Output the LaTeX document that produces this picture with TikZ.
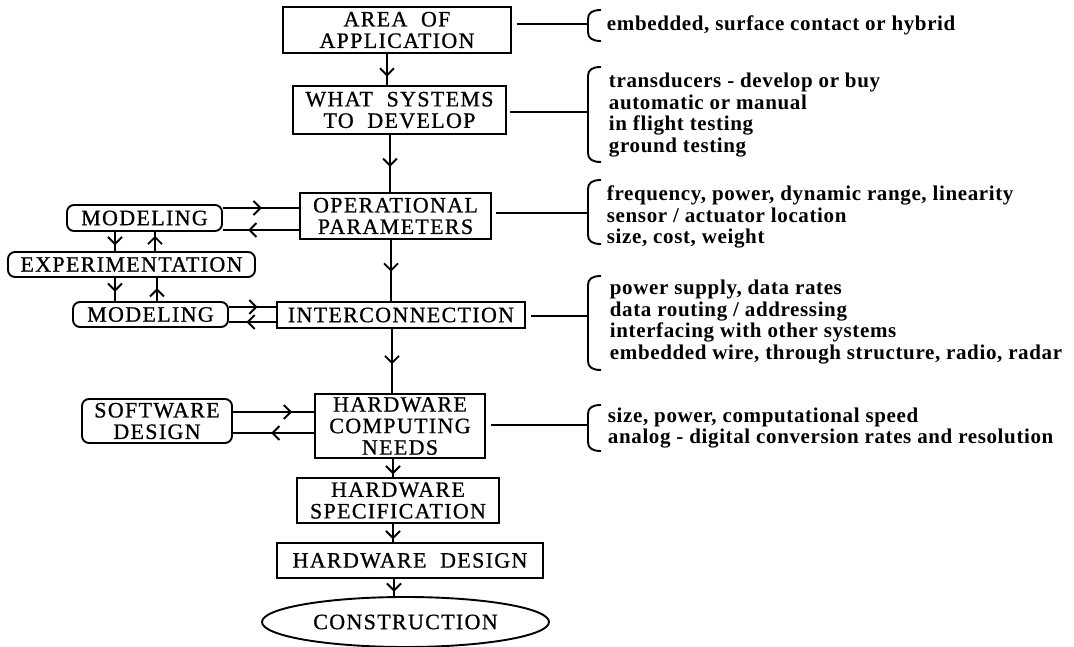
\documentclass[tikz,border=0pt]{standalone}
\usepackage{fontspec}
\setmainfont{Liberation Serif}
\newfontfamily\boxfont[LetterSpace=6,FakeBold=0.8]{Liberation Serif}
\newfontfamily\notefont[LetterSpace=3]{Liberation Serif}
\usetikzlibrary{arrows.meta,decorations.markings,shapes.geometric}

% curly bracket opening towards the notes: vertical stroke at x=588
\newcommand\notebrace[2]{%
  \draw (601,#1) .. controls (592,#1) and (588,#1+3) .. (588,#1+9)
        -- (588,#2-9) .. controls (588,#2-3) and (592,#2) .. (601,#2);}

\begin{document}
\begin{tikzpicture}[x=1pt,y=-1pt,
  line width=1.9pt,
  >={Straight Barb[length=7pt,width=14pt]},
  stage/.style={draw, rectangle, inner sep=0pt, align=center,
    font=\boxfont\fontsize{22}{21.5}\selectfont},
  rbox/.style={stage, rounded corners=7pt},
  note/.style={anchor=west, inner sep=0pt, align=left,
    font=\notefont\bfseries\fontsize{21}{21.4}\selectfont},
  arrowat/.style={postaction={decorate,
    decoration={markings, mark=at position #1 with {\arrow{>}}}}}]

\useasboundingbox (0,0) rectangle (1074,647);

% main chain
\node[stage, minimum width=228pt, minimum height=46pt] (area)  at (397,30)    {AREA\ \ OF\\APPLICATION};
\node[stage, minimum width=213pt, minimum height=48pt] (what)  at (399.5,110)  {WHAT\ \ SYSTEMS\\TO\ \ DEVELOP};
\node[stage, minimum width=191pt, minimum height=46pt] (oper)  at (395.5,216)  {OPERATIONAL\\PARAMETERS};
\node[stage, minimum width=248pt, minimum height=26pt] (inter) at (401,315)    {INTERCONNECTION};
\node[stage, minimum width=170pt, minimum height=64pt] (hcn)   at (400,426)    {HARDWARE\\COMPUTING\\NEEDS};
\node[stage, minimum width=202pt, minimum height=45pt] (hs)    at (398,500.5)  {HARDWARE\\SPECIFICATION};
\node[stage, minimum width=266pt, minimum height=35pt] (hd)    at (410,560.5)  {HARDWARE\ \ DESIGN};
\node[stage, ellipse, minimum width=287pt, minimum height=50pt] (cons) at (405.5,622) {CONSTRUCTION};

% side loops
\node[rbox, minimum width=155pt, minimum height=26pt] (mod1) at (144.5,218)  {MODELING};
\node[rbox, minimum width=247pt, minimum height=25pt] (exp)  at (131.5,264.5) {EXPERIMENTATION};
\node[rbox, minimum width=155pt, minimum height=25pt] (mod2) at (150.5,314.5) {MODELING};
\node[rbox, minimum width=150pt, minimum height=44pt] (sw)   at (157,421)    {SOFTWARE\\DESIGN};

% x positions of the vertical connectors
\coordinate (s1) at (387,0);
\coordinate (s2) at (390,0);
\coordinate (s3) at (391,0);
\coordinate (s4) at (392,0);
\coordinate (s5) at (393,0);
\coordinate (s6) at (393,0);
\coordinate (s7) at (394,0);
\coordinate (xl) at (115,0);
\coordinate (xr1) at (155,0);
\coordinate (xr2) at (157,0);

% spine
\draw[arrowat=0.73] (area.south -| s1) -- (what.north -| s1);
\draw[arrowat=0.56] (what.south -| s2) -- (oper.north -| s2);
\draw[arrowat=0.52] (oper.south -| s3) -- (inter.north -| s3);
\draw[arrowat=0.55] (inter.south -| s4) -- (hcn.north -| s4);
\draw[arrowat=0.85] (hcn.south -| s5) -- (hs.north -| s5);
\draw[arrowat=0.85] (hs.south -| s6) -- (hd.north -| s6);
\draw[arrowat=0.75] (hd.south -| s7) -- (cons.north -| s7);

% modeling / experimentation loops
\draw[arrowat=0.51] ([yshift=10pt]mod1.east) -- ([yshift=8pt]oper.west);
\draw[arrowat=0.67] ([yshift=-14pt]oper.west) -- ([yshift=-12pt]mod1.east);
\draw[arrowat=0.7]  (mod1.south -| xl) -- (exp.north -| xl);
\draw[arrowat=0.8]  (exp.north -| xr1) -- (mod1.south -| xr1);
\draw[arrowat=0.6]  (exp.south -| xl) -- (mod2.north -| xl);
\draw[arrowat=0.56] (mod2.north -| xr2) -- (exp.south -| xr2);
\draw[arrowat=0.61] ([yshift=7.5pt]mod2.east) -- ([yshift=8pt]inter.west);
\draw[arrowat=0.63] ([yshift=-7pt]inter.west) -- ([yshift=-7.5pt]mod2.east);
\draw[arrowat=0.73] ([yshift=9pt]sw.east) -- ([yshift=14pt]hcn.west);
\draw[arrowat=0.53] ([yshift=-7pt]hcn.west) -- ([yshift=-12pt]sw.east);

% notes on the right
\coordinate (b1) at (588,24);
\coordinate (b2) at (588,112);
\coordinate (b3) at (588,213);
\coordinate (b4) at (588,316);
\coordinate (b5) at (588,425);
\draw ([xshift=5pt,yshift=6pt]area.east) -- (b1);
\draw ([xshift=3pt,yshift=-2pt]what.east) -- (b2);
\draw ([xshift=4pt,yshift=3pt]oper.east) -- (b3);
\draw ([xshift=5pt,yshift=-1pt]inter.east) -- (b4);
\draw ([xshift=5pt,yshift=1pt]hcn.east) -- (b5);
\notebrace{10}{41}
\notebrace{67}{162}
\notebrace{180}{244}
\notebrace{276}{370}
\notebrace{405}{451}

\node[note] (n1) at (606,25)  {embedded, surface contact or hybrid};
\node[note] (n2) at (608,115) {transducers - develop or buy\\automatic or manual\\in flight testing\\ground testing};
\node[note] (n3) at (606,217) {frequency, power, dynamic range, linearity\\sensor / actuator location\\size, cost, weight};
\node[note] (n4) at (609,322) {power supply, data rates\\data routing / addressing\\interfacing with other systems\\embedded wire, through structure, radio, radar};
\node[note] (n5) at (607,428) {size, power, computational speed\\analog - digital conversion rates and resolution};
\end{tikzpicture}
\end{document}
